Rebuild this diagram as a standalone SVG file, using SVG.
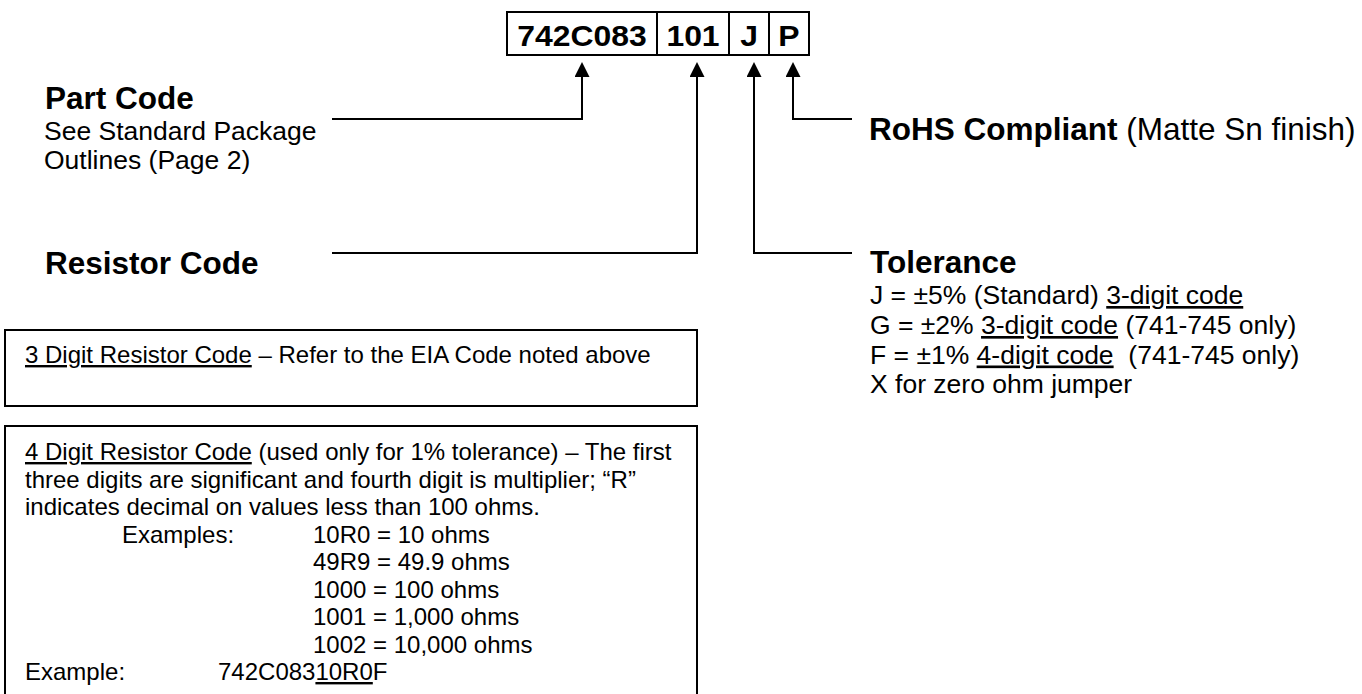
<svg xmlns="http://www.w3.org/2000/svg" width="1362" height="694" viewBox="0 0 1362 694">
<style>
text{font-family:"Liberation Sans",Arial,sans-serif;fill:#000;white-space:pre}
.h{font-size:31.5px;font-weight:bold}
.b{font-size:26.5px}
.s{font-size:24px}
.code{font-size:29px;font-weight:bold;text-anchor:middle}
.ln{fill:none;stroke:#000;stroke-width:2}
.u{text-decoration:underline}
</style>
<defs>
<marker id="ah" markerUnits="userSpaceOnUse" viewBox="0 0 15 15" markerWidth="15" markerHeight="15" refX="0" refY="7.5" orient="auto">
<path d="M0,0 L15,7.5 L0,15 z" fill="#000"/>
</marker>
</defs>
<rect width="1362" height="694" fill="#fff"/>

<g id="partnumber">
<rect x="507" y="12" width="302" height="43" class="ln"/>
<line x1="657" y1="12" x2="657" y2="55" class="ln"/>
<line x1="729" y1="12" x2="729" y2="55" class="ln"/>
<line x1="769" y1="12" x2="769" y2="55" class="ln"/>
<g transform="translate(582,46) scale(1.1,1)"><text class="code" x="0" y="0">742C083</text></g>
<g transform="translate(693,46) scale(1.1,1)"><text class="code" x="0" y="0">101</text></g>
<g transform="translate(749,46) scale(1.1,1)"><text class="code" x="0" y="0">J</text></g>
<g transform="translate(789,46) scale(1.1,1)"><text class="code" x="0" y="0">P</text></g>
</g>

<g id="connectors">
<path class="ln" d="M332,119 H582 V77" marker-end="url(#ah)"/>
<path class="ln" d="M332,253 H697 V77" marker-end="url(#ah)"/>
<path class="ln" d="M852,253 H754 V77" marker-end="url(#ah)"/>
<path class="ln" d="M852,119 H793 V77" marker-end="url(#ah)"/>
</g>

<g id="partcode">
<text class="h" x="45" y="109">Part Code</text>
<text class="b" x="44" y="140">See Standard Package</text>
<text class="b" x="44" y="169">Outlines (Page 2)</text>
</g>

<g id="resistorcode">
<text class="h" x="45" y="274">Resistor Code</text>
</g>

<g id="rohs">
<text x="869" y="140" style="font-size:31.5px"><tspan font-weight="bold">RoHS Compliant</tspan> (Matte Sn finish)</text>
</g>

<g id="tolerance">
<text class="h" x="870" y="273">Tolerance</text>
<text class="b" x="870" y="304">J = ±5% (Standard) <tspan class="u">3-digit code</tspan></text>
<text class="b" x="870" y="334">G = ±2% <tspan class="u">3-digit code</tspan> (741-745 only)</text>
<text class="b" x="870" y="363.5">F = ±1% <tspan class="u">4-digit code</tspan>  (741-745 only)</text>
<text class="b" x="870" y="393">X for zero ohm jumper</text>
</g>

<g id="box3digit">
<rect x="5" y="330" width="692" height="76" class="ln"/>
<text class="s" x="25" y="363"><tspan class="u">3 Digit Resistor Code</tspan> – Refer to the EIA Code noted above</text>
</g>

<g id="box4digit">
<path class="ln" d="M5,700 V426 H697 V700"/>
<text class="s" x="25" y="460"><tspan class="u">4 Digit Resistor Code</tspan> (used only for 1% tolerance) – The first</text>
<text class="s" x="25" y="487.5">three digits are significant and fourth digit is multiplier; “R”</text>
<text class="s" x="25" y="515">indicates decimal on values less than 100 ohms.</text>
<text class="s" x="122" y="542.5">Examples:</text>
<text class="s" x="313" y="542.5">10R0 = 10 ohms</text>
<text class="s" x="313" y="570">49R9 = 49.9 ohms</text>
<text class="s" x="313" y="597.5">1000 = 100 ohms</text>
<text class="s" x="313" y="625">1001 = 1,000 ohms</text>
<text class="s" x="313" y="652.5">1002 = 10,000 ohms</text>
<text class="s" x="25" y="680">Example:</text>
<text class="s" x="218" y="680">742C083<tspan class="u">10R0</tspan>F</text>
</g>
</svg>
